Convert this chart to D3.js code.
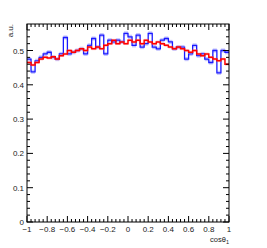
<!DOCTYPE html>
<html><head><meta charset="utf-8">
<script src="https://cdn.jsdelivr.net/npm/d3@7"></script>
<style>body{margin:0;background:#fff}svg{display:block}</style>
</head><body><svg id="c" width="267" height="248"></svg>
<script>
const nBins = 50;
const xTicks = [-1,-0.8,-0.6,-0.4,-0.2,0,0.2,0.4,0.6,0.8,1];
const yTicks = [0,0.1,0.2,0.3,0.4,0.5];
const blueValues = [0.475,0.438,0.47,0.48,0.49,0.495,0.48,0.475,0.49,0.538,
  0.49,0.495,0.5,0.505,0.49,0.515,0.535,0.51,0.545,0.49,
  0.53,0.525,0.53,0.525,0.55,0.54,0.515,0.545,0.51,0.52,
  0.55,0.51,0.505,0.53,0.535,0.525,0.505,0.51,0.51,0.475,
  0.49,0.515,0.485,0.49,0.475,0.465,0.5,0.435,0.5,0.495];
const redValues = [0.465,0.458,0.465,0.475,0.48,0.478,0.482,0.475,0.485,0.49,
  0.5,0.495,0.5,0.505,0.5,0.51,0.505,0.51,0.505,0.515,
  0.52,0.53,0.52,0.525,0.52,0.53,0.525,0.53,0.52,0.53,
  0.525,0.52,0.525,0.52,0.515,0.51,0.505,0.51,0.505,0.5,
  0.495,0.5,0.49,0.485,0.49,0.48,0.475,0.47,0.475,0.46];
const blueErr = 0.006, redErr = 0.004;

const svg = d3.select("#c");
const L=27,R=229,T=24,B=222;
const x = d3.scaleLinear().domain([-1,1]).range([L,R]);
const y = d3.scaleLinear().domain([0,0.5773]).range([B,T]);
const font = "Liberation Sans, Arial, sans-serif";

function drawHist(vals, err, color, band, sw) {
  const w = 2/nBins;
  const g = svg.append("g");
  g.selectAll("rect").data(vals).join("rect")
    .attr("x",(d,i)=>x(-1+i*w)).attr("width",x(-1+w)-x(-1))
    .attr("y",d=>y(d+err)).attr("height",d=>y(d-err)-y(d+err))
    .attr("fill",band).attr("opacity",0.5);
  const pts = [];
  vals.forEach((d,i)=>{pts.push([-1+i*w,d]);pts.push([-1+(i+1)*w,d]);});
  g.append("path").attr("d",d3.line().x(p=>x(p[0])).y(p=>y(p[1]))(pts))
    .attr("fill","none").attr("stroke",color).attr("stroke-width",sw);
}
drawHist(blueValues, blueErr, "#1a1aff", "#8c8cff", 1.3);
drawHist(redValues, redErr, "#ff0000", "#ff8c8c", 1.5);

// frame
svg.append("rect").attr("x",L).attr("y",T).attr("width",R-L).attr("height",B-T)
  .attr("fill","none").attr("stroke","#000").attr("stroke-width",1);

const xMinor = d3.range(0,51).map(i=>-1+i*0.04);
const ax = svg.append("g").attr("stroke","#000").attr("stroke-width",1);
xMinor.forEach((v,i)=>{
  const len = (i%5===0)?6:3;
  ax.append("line").attr("x1",x(v)).attr("x2",x(v)).attr("y1",B).attr("y2",B-len);
  ax.append("line").attr("x1",x(v)).attr("x2",x(v)).attr("y1",T).attr("y2",T+len);
});
const yMinor = d3.range(0,29).map(i=>i*0.02);
yMinor.forEach((v,i)=>{
  const len = (i%5===0)?6:3;
  ax.append("line").attr("y1",y(v)).attr("y2",y(v)).attr("x1",L).attr("x2",L+len);
  ax.append("line").attr("y1",y(v)).attr("y2",y(v)).attr("x1",R).attr("x2",R-len);
});

svg.append("g").selectAll("text").data(xTicks).join("text")
  .attr("x",d=>x(d)).attr("y",B+10).attr("text-anchor","middle")
  .attr("font-family",font).attr("font-size",8).attr("fill","#222")
  .text(d=>d3.format("")(d));
svg.append("g").selectAll("text").data(yTicks).join("text")
  .attr("x",L-3).attr("y",d=>y(d)+3).attr("text-anchor","end")
  .attr("font-family",font).attr("font-size",8).attr("fill","#222")
  .text(d=>d3.format("")(d));

svg.append("text").attr("transform",`translate(13,${T}) rotate(-90)`)
  .attr("text-anchor","end").attr("font-family",font).attr("font-size",8).attr("fill","#222")
  .text("a.u.");
const xl = svg.append("text").attr("x",R).attr("y",242).attr("text-anchor","end")
  .attr("font-family",font).attr("font-size",7.5).attr("fill","#222");
xl.append("tspan").text("cosθ");
xl.append("tspan").attr("font-size",5.5).attr("dy",1.5).text("1");
</script></body></html>
